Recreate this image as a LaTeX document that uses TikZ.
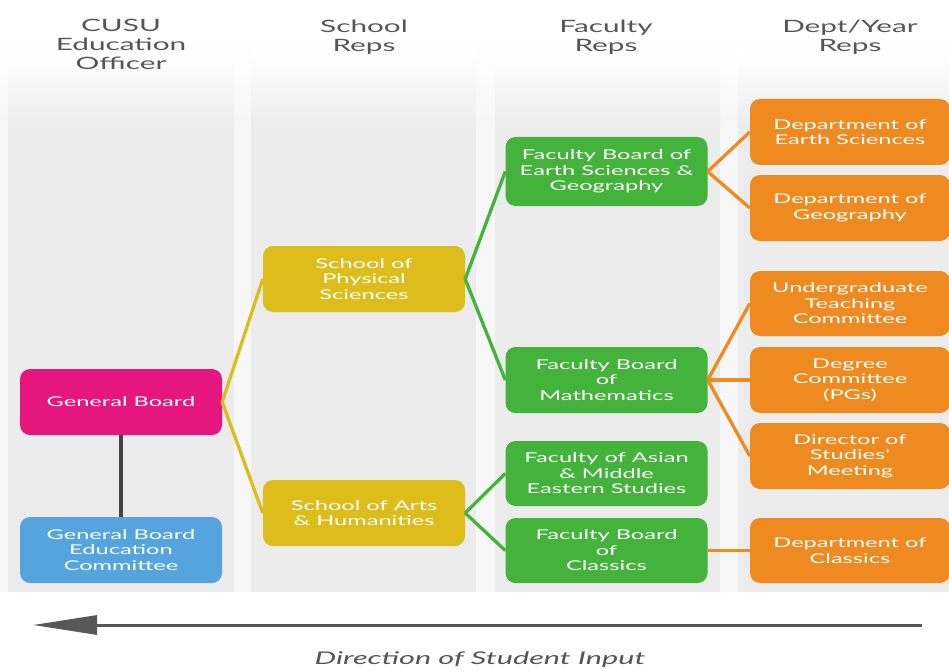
\documentclass[tikz,border=0pt]{standalone}
\usepackage{fontspec}
\setmainfont{Lato}
\newfontfamily\widefont[FakeStretch=1.75]{Lato}
\usetikzlibrary{arrows.meta}
\definecolor{cmag}{HTML}{E5177F}
\definecolor{cblue}{HTML}{55A4DE}
\definecolor{cyel}{HTML}{DCBD1B}
\definecolor{cgreen}{HTML}{44B33B}
\definecolor{corange}{HTML}{EE8A1F}
\definecolor{colbg}{HTML}{ECECEC}
\definecolor{gapbg}{HTML}{F7F7F7}
\definecolor{headtxt}{HTML}{555555}
\definecolor{darkline}{HTML}{444444}
\begin{document}
\begin{tikzpicture}[x=1pt,y=-1pt,
  box/.style={rounded corners=10pt, minimum width=202pt, minimum height=66pt,
    inner sep=0pt, align=center, text=white,
    font=\widefont\fontsize{13.5}{15.5}\selectfont},
  magbox/.style={box, fill=cmag},
  bluebox/.style={box, fill=cblue},
  yelbox/.style={box, fill=cyel},
  greenbox/.style={box, fill=cgreen},
  orbox/.style={box, fill=corange, minimum width=200pt},
  head/.style={anchor=north, align=center, text=headtxt,
    font=\widefont\fontsize{17}{19}\selectfont},
  yelline/.style={draw=cyel, line width=3.3pt},
  greenline/.style={draw=cgreen, line width=3.3pt},
  orline/.style={draw=corange, line width=3.3pt},
]
\useasboundingbox (0,0) rectangle (949,671);
\fill[white] (0,0) rectangle (949,671);
% column backgrounds
\shade[top color=white, bottom color=gapbg] (0,40) rectangle (949,120);
\fill[gapbg] (0,120) rectangle (949,592);
\foreach \a/\b in {8/234, 251/476, 495/720, 738/949}{
  \shade[top color=white, bottom color=colbg] (\a,50) rectangle (\b,130);
  \fill[colbg] (\a,130) rectangle (\b,592);
}
% headers
\node[head] (h1) at (121,16) {CUSU\\Education\\Officer};
\node[head] (h2) at (364,16) {School\\Reps};
\node[head] (h3) at (606,16) {Faculty\\Reps};
\node[head] (h4) at (850,16) {Dept/Year\\Reps};
% nodes
\node[magbox] (gb) at (121,402) {General Board};
\node[bluebox] (gbec) at (121,550) {General Board\\Education\\Committee};
\node[yelbox] (sps) at (364,279) {School of\\Physical\\Sciences};
\node[yelbox] (sah) at (364,513) {School of Arts\\\& Humanities};
\node[greenbox, minimum height=69pt] (fbesg) at (606.5,171.5) {Faculty Board of\\Earth Sciences \&\\Geography};
\node[greenbox] (fbm) at (606.5,380) {Faculty Board\\of\\Mathematics};
\node[greenbox, minimum height=65pt] (fames) at (606.5,473.5) {Faculty of Asian\\\& Middle\\Eastern Studies};
\node[greenbox, minimum height=65pt] (fbc) at (606.5,550.5) {Faculty Board\\of\\Classics};
\node[orbox] (des) at (850,132) {Department of\\Earth Sciences};
\node[orbox] (dg) at (850,208) {Department of\\Geography};
\node[orbox, minimum height=65pt] (utc) at (850,303.5) {Undergraduate\\Teaching\\Committee};
\node[orbox] (dc) at (850,380) {Degree\\Committee\\(PGs)};
\node[orbox] (dos) at (850,456) {Director of\\Studies'\\Meeting};
\node[orbox, minimum height=65pt] (dcl) at (850,550.5) {Department of\\Classics};
% connectors
\draw[darkline, line width=4pt] (gb.south) -- (gbec.north);
\draw[yelline] (gb.east) -- (sps.west);
\draw[yelline] (gb.east) -- (sah.west);
\draw[greenline] (sps.east) -- (fbesg.west);
\draw[greenline] (sps.east) -- (fbm.west);
\draw[greenline] (sah.east) -- (fames.west);
\draw[greenline] (sah.east) -- (fbc.west);
\draw[orline] (fbesg.east) -- (des.west);
\draw[orline] (fbesg.east) -- (dg.west);
\draw[orline] (fbm.east) -- (utc.west);
\draw[orline] (fbm.east) -- (dc.west);
\draw[orline] (fbm.east) -- (dos.west);
\draw[orline] (fbc.east) -- (dcl.west);
% direction arrow
\coordinate (arrR) at (922,625);
\coordinate (arrL) at (33,625);
\draw[darkline!90, line width=3pt, -{Triangle[length=64pt,width=19pt]}] (arrR) -- (arrL);
\node[text=headtxt, font=\widefont\itshape\fontsize{17.5}{20}\selectfont] (cap) at (480,660) {Direction of Student Input};
\end{tikzpicture}
\end{document}
